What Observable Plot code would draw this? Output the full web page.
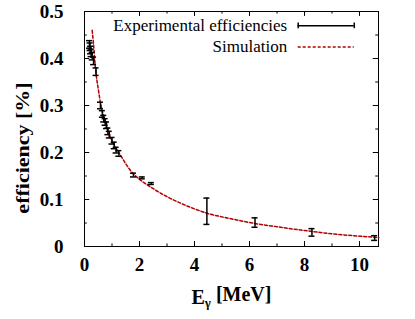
<!DOCTYPE html>
<html>
<head>
<meta charset="utf-8">
<script src="https://cdn.jsdelivr.net/npm/d3@7"></script>
<script src="https://cdn.jsdelivr.net/npm/@observablehq/plot@0.6"></script>
<style>
  html, body { margin: 0; padding: 0; background: white; }
  svg, svg text, svg tspan { font-family: "Liberation Serif", "DejaVu Serif", serif !important; }
</style>
</head>
<body>
<div id="chart"></div>
<script>
// Experimental efficiencies: energy (MeV), efficiency (%), error
const expE   = [0.18, 0.20, 0.22, 0.24, 0.28, 0.33, 0.42, 0.58, 0.65, 0.70, 0.75, 0.80, 0.85, 0.90, 1.00, 1.08, 1.15, 1.25, 1.78, 2.10, 2.43, 4.45, 6.20, 8.27, 10.55];
const expEff = [0.430, 0.425, 0.418, 0.412, 0.405, 0.395, 0.372, 0.300, 0.282, 0.272, 0.265, 0.258, 0.245, 0.238, 0.225, 0.215, 0.205, 0.198, 0.152, 0.146, 0.134, 0.075, 0.051, 0.030, 0.018];
const expErr = [0.008, 0.008, 0.008, 0.008, 0.008, 0.008, 0.008, 0.007, 0.007, 0.007, 0.007, 0.007, 0.007, 0.007, 0.007, 0.007, 0.006, 0.006, 0.004, 0.002, 0.002, 0.028, 0.010, 0.008, 0.005];

// Simulation curve
const simE   = [0.28, 0.32, 0.40, 0.50, 0.60, 0.80, 1.00, 1.30, 1.50, 1.80, 2.00, 2.50, 3.00, 3.50, 4.00, 4.50, 5.00, 5.50, 6.00, 7.00, 8.00, 9.00, 10.00, 10.70];
const simEff = [0.460, 0.435, 0.378, 0.335, 0.300, 0.255, 0.225, 0.195, 0.176, 0.153, 0.143, 0.123, 0.106, 0.092, 0.080, 0.070, 0.063, 0.057, 0.051, 0.042, 0.034, 0.027, 0.022, 0.019];

const xTicks = [0, 2, 4, 6, 8, 10];
const xMinor = [1, 3, 5, 7, 9];
const yTicks = [0, 0.1, 0.2, 0.3, 0.4, 0.5];
const yMinor = [0.05, 0.15, 0.25, 0.35, 0.45];

const xLabel = "Eγ [MeV]";
const yLabel = "efficiency [%]";
const legendLabels = ["Experimental efficiencies", "Simulation"];

const xMax = 10.69, yMax = 0.5;
const exp = expE.map((e, i) => ({E: e, eff: expEff[i], err: expErr[i]}));
const sim = simE.map((e, i) => ({E: e, eff: simEff[i]}));

const red = "#b00000";
const serif = "Liberation Serif";
// tick lengths (in data units)
const tyMaj = 0.0105, tyMin = 0.0055, txMaj = 0.19, txMin = 0.10;

// legend geometry (data units)
const legX1 = 7.77, legX2 = 9.81, legY1 = 0.4695, legY2 = 0.4245;

const plot = Plot.plot({
  width: 415,
  height: 319,
  marginLeft: 84,
  marginRight: 37,
  marginTop: 11,
  marginBottom: 73,
  style: {fontFamily: serif, background: "white", color: "black"},
  x: {domain: [0, xMax], axis: null},
  y: {domain: [0, yMax], axis: null},
  marks: [
    // ticks (inward, mirrored)
    Plot.ruleX(xTicks, {x: d => d, y1: 0, y2: tyMaj, stroke: "black", strokeWidth: 1}),
    Plot.ruleX(xTicks, {x: d => d, y1: yMax, y2: yMax - tyMaj, stroke: "black", strokeWidth: 1}),
    Plot.ruleX(xMinor, {x: d => d, y1: 0, y2: tyMin, stroke: "black", strokeWidth: 1}),
    Plot.ruleX(xMinor, {x: d => d, y1: yMax, y2: yMax - tyMin, stroke: "black", strokeWidth: 1}),
    Plot.ruleY(yTicks, {y: d => d, x1: 0, x2: txMaj, stroke: "black", strokeWidth: 1}),
    Plot.ruleY(yTicks, {y: d => d, x1: xMax, x2: xMax - txMaj, stroke: "black", strokeWidth: 1}),
    Plot.ruleY(yMinor, {y: d => d, x1: 0, x2: txMin, stroke: "black", strokeWidth: 1}),
    Plot.ruleY(yMinor, {y: d => d, x1: xMax, x2: xMax - txMin, stroke: "black", strokeWidth: 1}),
    Plot.frame({stroke: "black", strokeWidth: 1}),
    Plot.axisX({ticks: xTicks, tickSize: 0, tickPadding: 11, fontSize: 19, fontWeight: "bold", fontFamily: serif, label: null, tickFormat: d3.format("d")}),
    Plot.axisY({ticks: yTicks, tickSize: 0, tickPadding: 21, fontSize: 19, fontWeight: "bold", fontFamily: serif, label: null, tickFormat: d => d === 0 ? "0" : d3.format(".1f")(d)}),
    // simulation
    Plot.line(sim, {x: "E", y: "eff", stroke: red, strokeWidth: 1.5, strokeDasharray: "3,2", curve: "monotone-x"}),
    // error bars
    Plot.ruleX(exp, {x: "E", y1: d => d.eff - d.err, y2: d => d.eff + d.err, stroke: "black", strokeWidth: 1.5}),
    Plot.ruleY(exp, {y: d => d.eff - d.err, x1: "E", x2: "E", insetLeft: -3, insetRight: -3, stroke: "black", strokeWidth: 1.5}),
    Plot.ruleY(exp, {y: d => d.eff + d.err, x1: "E", x2: "E", insetLeft: -3, insetRight: -3, stroke: "black", strokeWidth: 1.5}),
    // legend
    Plot.text([legendLabels[0]], {x: legX1, y: legY1, text: d => d, textAnchor: "end", dx: -11, fontSize: 17, fontFamily: serif}),
    Plot.text([legendLabels[1]], {x: legX1, y: legY2, text: d => d, textAnchor: "end", dx: -11, fontSize: 17, fontFamily: serif}),
    Plot.ruleY([legY1], {y: d => d, x1: legX1, x2: legX2, stroke: "black", strokeWidth: 1.5}),
    Plot.ruleX([legX1, legX2], {x: d => d, y1: legY1 - 0.006, y2: legY1 + 0.006, stroke: "black", strokeWidth: 1.5}),
    Plot.ruleY([legY2], {y: d => d, x1: legX1, x2: legX2, stroke: red, strokeWidth: 1.5, strokeDasharray: "3,2"}),
    // axis labels
    Plot.text([yLabel], {frameAnchor: "left", textAnchor: "middle", text: d => d, dx: -61, dy: 19, rotate: -90, fontSize: 22, fontWeight: "bold", fontFamily: serif}),
    Plot.text([xLabel], {frameAnchor: "bottom", textAnchor: "middle", text: d => d, dy: 57, fontSize: 20, fontWeight: "bold", fontFamily: serif})
  ]
});

document.getElementById("chart").appendChild(plot);

// subscript the gamma in the x label
d3.select(plot).selectAll("text").filter(function () { return this.textContent === xLabel; })
  .each(function () {
    const t = d3.select(this);
    t.text(null);
    t.append("tspan").text("E");
    t.append("tspan").attr("dy", "0.3em").attr("font-size", "13").text("γ");
    t.append("tspan").attr("dy", "-0.3em").text(" [MeV]");
  });
// horizontally condense the y label a little, like the reference raster
d3.select(plot).selectAll("text").filter(function () { return this.textContent === yLabel; })
  .each(function () {
    const tr = this.getAttribute("transform") || "";
    this.setAttribute("transform", tr + " scale(1,0.85)");
  });
</script>
</body>
</html>
